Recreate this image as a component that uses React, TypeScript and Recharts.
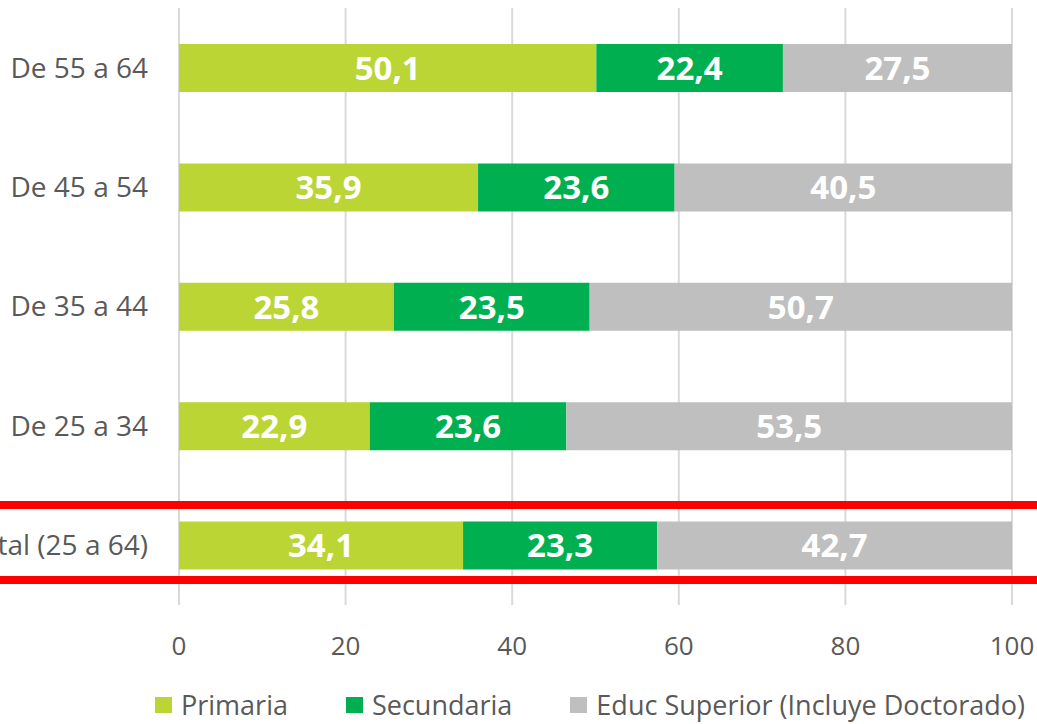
import React from 'react';
import { BarChart, Bar, XAxis, YAxis, CartesianGrid, Legend, LabelList } from 'recharts';

const categories = ['De 55 a 64', 'De 45 a 54', 'De 35 a 44', 'De 25 a 34', 'Total (25 a 64)'];
const primaria = [50.1, 35.9, 25.8, 22.9, 34.1];
const secundaria = [22.4, 23.6, 23.5, 23.6, 23.3];
const superior = [27.5, 40.5, 50.7, 53.5, 42.7];
const seriesNames = ['Primaria', 'Secundaria', 'Educ Superior (Incluye Doctorado)'];
const xTicks = [0, 20, 40, 60, 80, 100];

const data = categories.map((name, i) => ({
  name,
  primaria: primaria[i],
  secundaria: secundaria[i],
  superior: superior[i],
}));

const series = [
  { key: 'primaria', name: seriesNames[0], color: '#BBD535' },
  { key: 'secundaria', name: seriesNames[1], color: '#00B050' },
  { key: 'superior', name: seriesNames[2], color: '#BFBFBF' },
];

const font = '"Open Sans", sans-serif';
const fmt = (v: any) => Number(v).toFixed(1).replace('.', ',');

// legend drawn in series order (recharts reverses it for vertical layout)
const renderLegend = () => (
  <div
    style={{
      display: 'flex',
      alignItems: 'flex-start',
      height: 30,
      width: 1037,
      paddingLeft: 155,
      boxSizing: 'border-box',
      whiteSpace: 'nowrap',
      fontFamily: font,
      fontSize: 27,
      lineHeight: '30px',
      color: '#595959',
    }}
  >
    {series.map((s) => (
      <span key={s.key} style={{ display: 'flex', alignItems: 'center', height: 30, marginRight: 58, flexShrink: 0, marginTop: -4 }}>
        <span style={{ width: 17, height: 16, background: s.color, marginRight: 9, display: 'inline-block' }} />
        {s.name}
      </span>
    ))}
  </div>
);

const App = () => {
  return (
    <div style={{ position: 'absolute', left: 0, top: 0, width: 1037, height: 724, background: '#fff', overflow: 'hidden' }}>
      <BarChart
        width={1037}
        height={724}
        data={data}
        layout="vertical"
        margin={{ top: 8, right: 25, left: 0, bottom: 0 }}
      >
        <CartesianGrid horizontal={false} stroke="#D9D9D9" strokeWidth={2} />
        <XAxis
          type="number"
          domain={[0, 100]}
          allowDataOverflow
          ticks={xTicks}
          axisLine={false}
          tickLine={false}
          height={89}
          tickMargin={26}
          tick={{ fill: '#595959', fontSize: 26, fontFamily: font }}
        />
        <YAxis
          type="category"
          dataKey="name"
          axisLine={false}
          tickLine={false}
          width={179}
          tickMargin={25}
          tick={{ fill: '#595959', fontSize: 28, fontFamily: font }}
        />
        <Legend verticalAlign="bottom" content={renderLegend} wrapperStyle={{ left: 0, width: 1037 }} />
        {series.map((s) => (
          <Bar key={s.key} dataKey={s.key} name={s.name} stackId="a" fill={s.color} barSize={48} isAnimationActive={false}>
            <LabelList dataKey={s.key} position="center" formatter={fmt} fill="#fff" fontSize={33} fontWeight="bold" fontFamily={font} />
          </Bar>
        ))}
      </BarChart>
      <div style={{ position: 'absolute', left: 0, top: 501, width: 1037, height: 8, background: '#FF0000' }} />
      <div style={{ position: 'absolute', left: 0, top: 576, width: 1037, height: 8, background: '#FF0000' }} />
    </div>
  );
};

export default App;
